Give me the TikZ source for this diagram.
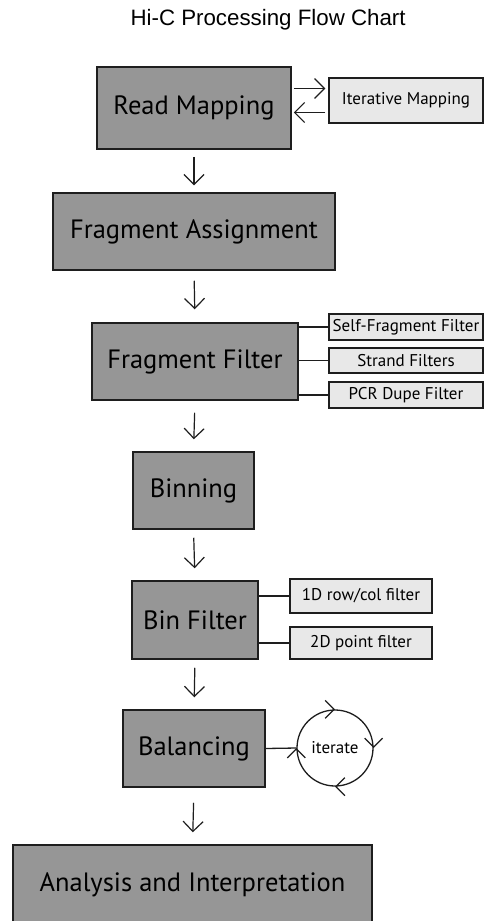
\documentclass[tikz,border=0pt]{standalone}
\usepackage{fontspec}
\setmainfont{PT Sans}
\newfontfamily\titlefont{Liberation Sans}
\usetikzlibrary{arrows.meta,calc}
\definecolor{boxgray}{RGB}{150,150,150}
\definecolor{sidegray}{RGB}{232,232,232}
\definecolor{edge}{RGB}{30,30,30}
\tikzset{
  mainbox/.style={draw=edge, fill=boxgray, line width=1.5pt, inner sep=0pt,
    font=\fontsize{26.5}{30}\selectfont},
  sidebox/.style={draw=edge, fill=sidegray, line width=1.3pt, inner sep=0pt,
    font=\fontsize{17}{19}\selectfont},
  arr/.style={draw=edge, line width=1.2pt, -{Straight Barb[length=10pt,width=20pt,line width=1.2pt]}},
  conn/.style={draw=edge, line width=1.3pt},
  tip/.style={draw=edge, line width=1.2pt, -{Straight Barb[length=9pt,width=18pt,line width=1.2pt]}}
}
\begin{document}
\begin{tikzpicture}[x=1pt,y=-1pt]
\useasboundingbox[fill=white] (0,0) rectangle (484,921);
\node[anchor=base west, font=\titlefont\fontsize{22.3}{26}\selectfont] (title) at (127,25) {Hi-C Processing Flow Chart};

\node[mainbox, minimum width=194pt, minimum height=82pt] (RM) at (194,108) {Read Mapping};
\node[sidebox, minimum width=154pt, minimum height=45pt] (IM) at (406,100.5) {Iterative Mapping};

\node[mainbox, minimum width=282pt, minimum height=77pt] (FA) at (194,231.5) {Fragment Assignment};

\node[mainbox, minimum width=206pt, minimum height=77pt] (FF) at (195,361.5) {Fragment Filter};
\node[sidebox, minimum width=154pt, minimum height=26pt] (S1) at (406,327) {Self-Fragment Filter};
\node[sidebox, minimum width=154pt, minimum height=25pt] (S2) at (406,360.5) {Strand Filters};
\node[sidebox, minimum width=154pt, minimum height=26pt] (S3) at (406,395) {PCR Dupe Filter};

\node[mainbox, minimum width=121pt, minimum height=77pt] (BN) at (193.5,490.5) {Binning};

\node[mainbox, minimum width=126pt, minimum height=78pt] (BF) at (195,620) {Bin Filter};
\node[sidebox, minimum width=142pt, minimum height=34pt] (B1) at (361,596) {1D row/col filter};
\node[sidebox, minimum width=142pt, minimum height=32pt] (B2) at (361,643) {2D point filter};

\node[mainbox, minimum width=142pt, minimum height=77pt] (BL) at (194,748.5) {Balancing};
\node[draw=edge, line width=1.3pt, circle, minimum size=76pt, inner sep=0pt,
  font=\fontsize{17}{19}\selectfont] (IT) at (335,748) {iterate};

\node[mainbox, minimum width=359pt, minimum height=80pt] (AI) at (192.5,885) {Analysis and Interpretation};

% vertical flow arrows
\draw[arr, shorten <=7pt, shorten >=7pt] (RM.south) -- (FA.north);
\draw[arr, shorten <=10pt, shorten >=13pt] (FA.south) -- (FF.north);
\draw[arr, shorten <=12pt, shorten >=12pt] (FF.south) -- (BN.north);
\draw[arr, shorten <=8pt, shorten >=12pt] (BN.south) -- (BF.north);
\draw[arr, shorten <=8pt, shorten >=12pt] (BF.south) -- (BL.north);
\draw[arr, shorten <=15pt, shorten >=12pt] (BL.south) -- (AI.north);

% iterative mapping arrows
\coordinate (t1) at ([yshift=12pt]IM.west);
\coordinate (t2) at ([yshift=-12pt]IM.west);
\draw[arr, shorten <=2pt, shorten >=3pt] (t1 -| RM.east) -- (t1);
\draw[arr, shorten <=3pt, shorten >=2pt] (t2) -- (t2 -| RM.east);

% filter connectors
\draw[conn] (S1.west -| FF.east) -- (S1.west);
\draw[conn] (S2.west -| FF.east) -- (S2.west);
\draw[conn] (S3.west -| FF.east) -- (S3.west);
\draw[conn] (B1.west -| BF.east) -- (B1.west);
\draw[conn] (B2.west -| BF.east) -- (B2.west);

% balancing to iterate
\draw[conn] (BL.east) -- (IT.west);
\draw[tip] ([xshift=-2pt]IT.north) -- (IT.north);
\draw[tip] ([yshift=2pt]IT.east) -- (IT.east);
\draw[tip] ([xshift=2pt]IT.south) -- (IT.south);
\draw[tip] ([yshift=-2pt]IT.west) -- (IT.west);
\end{tikzpicture}
\end{document}
